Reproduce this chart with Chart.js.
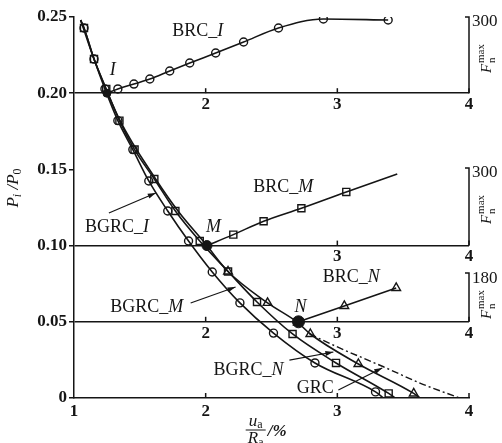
<!DOCTYPE html>
<html>
<head>
<meta charset="utf-8">
<script src="https://cdn.jsdelivr.net/npm/chart.js@4.4.0/dist/chart.umd.min.js"></script>
<style>
html, body { margin: 0; padding: 0; background: #fff; }
</style>
</head>
<body>
<canvas id="chart" width="502" height="443"></canvas>
<script>
// ! values: x = ua/Ra (%), y = Pi/P0
const bgrcIx = [1.05, 1.076, 1.152, 1.235, 1.333, 1.447, 1.568, 1.712, 1.87, 2.05, 2.26, 2.515, 2.83, 3.29, 3.35];
const bgrcIy = [0.248, 0.2428, 0.2224, 0.2028, 0.182, 0.163, 0.1424, 0.1227, 0.103, 0.0827, 0.0624, 0.0426, 0.023, 0.004, 0];

const bgrcMx = [1.05, 1.076, 1.152, 1.245, 1.345, 1.46, 1.61, 1.77, 1.955, 2.17, 2.39, 2.66, 2.99, 3.39, 3.44];
const bgrcMy = [0.248, 0.2428, 0.2224, 0.2028, 0.182, 0.163, 0.1437, 0.1227, 0.103, 0.083, 0.063, 0.042, 0.023, 0.003, 0];

const bgrcNx = [1.05, 1.152, 1.35, 1.62, 1.79, 2.0, 2.17, 2.47, 2.70, 2.795, 3.16, 3.58, 3.63];
const bgrcNy = [0.248, 0.2224, 0.182, 0.1437, 0.1227, 0.101, 0.083, 0.0624, 0.0495, 0.042, 0.0223, 0.003, 0];

const grcX = [2.79, 3.0, 3.35, 3.65, 3.93];
const grcY = [0.042, 0.0335, 0.0205, 0.009, 0];

// BRC curves drawn in the Pi/P0 units of the panel they sit in
const brcIx = [1.25, 1.333, 1.455, 1.576, 1.727, 1.879, 2.076, 2.288, 2.553, 2.894, 3.386];
const brcIy = [0.20, 0.2028, 0.206, 0.2093, 0.2146, 0.2198, 0.2264, 0.2336, 0.2428, 0.2487, 0.248];

const brcMx = [2.01, 2.21, 2.44, 2.727, 3.068, 3.455];
const brcMy = [0.10, 0.1072, 0.1160, 0.1245, 0.1352, 0.147];

const brcNx = [2.705, 3.053, 3.447];
const brcNy = [0.05, 0.0604, 0.0722];

const keyX = [1.25, 2.01, 2.705];
const keyY = [0.20, 0.10, 0.05];

const yTicks = [0, 0.05, 0.10, 0.15, 0.20, 0.25];
const panelLines = [0.20, 0.10, 0.05];
const panelTop = [0.25, 0.151, 0.082];
const panelMax = ['300', '300', '180'];

const pts = (xs, ys) => xs.map((x, i) => ({ x: x, y: ys[i] }));
const serif = '"Liberation Serif", "Times New Roman", serif';
const ink = '#151515';

function lineSet(xs, ys, style, r, markerIf) {
    return {
        data: pts(xs, ys),
        showLine: true,
        borderColor: ink,
        borderWidth: 1.6,
        cubicInterpolationMode: 'monotone',
        pointStyle: style,
        pointRadius: ctx => markerIf(ctx) ? r : 0,
        pointBorderColor: ink,
        pointBorderWidth: 1.4,
        pointBackgroundColor: 'rgba(0,0,0,0)'
    };
}
const inner = ctx => ctx.dataIndex > 0 && ctx.dataIndex < ctx.dataset.data.length - 1;
const notFirst = ctx => ctx.dataIndex > 0;

// text helper: parts = [[text, font, dy]]
function rich(ctx, parts, x, y, align) {
    let w = 0;
    parts.forEach(p => { ctx.font = p[1]; w += ctx.measureText(p[0]).width; });
    let cx = align === 'left' ? x : x - w / 2;
    parts.forEach(p => {
        ctx.font = p[1];
        ctx.fillText(p[0], cx, y + (p[2] || 0));
        cx += ctx.measureText(p[0]).width;
    });
}
const rom = '18px ' + serif;
const ita = 'italic 18px ' + serif;
const tag = (a, b) => [[a, rom], [b, ita]];

const notes = [
    { parts: tag('BRC_', 'I'), x: 1.94, y: 0.2408 },
    { parts: [['I', ita]], x: 1.295, y: 0.2152 },
    { parts: tag('BRC_', 'M'), x: 2.59, y: 0.1385 },
    { parts: [['M', ita]], x: 2.06, y: 0.1122 },
    { parts: tag('BGRC_', 'I'), x: 1.326, y: 0.1122 },
    { parts: tag('BGRC_', 'M'), x: 1.553, y: 0.0597 },
    { parts: [['N', ita]], x: 2.72, y: 0.0597 },
    { parts: tag('BRC_', 'N'), x: 3.106, y: 0.0794 },
    { parts: tag('BGRC_', 'N'), x: 2.326, y: 0.0184 },
    { parts: [['GRC', rom]], x: 2.833, y: 0.0066 }
];
const arrows = [
    [1.265, 0.1214, 1.621, 0.1345],
    [1.886, 0.0623, 2.227, 0.0728],
    [2.636, 0.0249, 2.97, 0.0302],
    [3.008, 0.0052, 3.341, 0.0197]
];

const decor = {
    id: 'decor',
    afterDatasetsDraw(chart) {
        const ctx = chart.ctx;
        const xs = chart.scales.x, ys = chart.scales.y;
        const px = v => xs.getPixelForValue(v), py = v => ys.getPixelForValue(v);
        ctx.save();
        ctx.strokeStyle = ink;
        ctx.fillStyle = ink;
        ctx.lineWidth = 1.5;

        // inner ticks on every baseline
        [0].concat(panelLines).forEach(b => {
            [2, 3, 4].forEach(t => {
                ctx.beginPath();
                ctx.moveTo(px(t), py(b));
                ctx.lineTo(px(t), py(b) - 5);
                ctx.stroke();
            });
        });
        // tick numbers under the panel lines
        ctx.font = 'bold 17px ' + serif;
        ctx.textAlign = 'center';
        ctx.textBaseline = 'top';
        const under = [[0.20, [2, 3, 4]], [0.10, [3, 4]], [0.05, [2, 3, 4]]];
        under.forEach(u => u[1].forEach(t => ctx.fillText(String(t), px(t), py(u[0]) + 3)));

        // right hand Fn max axes
        panelLines.forEach((b, i) => {
            const x = px(4), y0 = py(b), y1 = py(panelTop[i]);
            ctx.beginPath();
            ctx.moveTo(x, y0);
            ctx.lineTo(x, y1);
            ctx.lineTo(x - 4, y1);
            ctx.stroke();
            ctx.textAlign = 'left';
            ctx.textBaseline = 'middle';
            ctx.font = '17px ' + serif;
            ctx.fillText(panelMax[i], x + 3, y1 + 5);
            ctx.save();
            ctx.translate(x + 22, y1 + 40 - (i === 2 ? 10 : 0));
            ctx.rotate(-Math.PI / 2);
            ctx.textAlign = 'left';
            ctx.textBaseline = 'alphabetic';
            ctx.font = 'italic 15px ' + serif;
            ctx.fillText('F', -16, 0);
            ctx.font = '11px ' + serif;
            ctx.fillText('n', -6, 4);
            ctx.fillText('max', -6, -7);
            ctx.restore();
        });

        // annotations
        ctx.textBaseline = 'middle';
        notes.forEach(n => rich(ctx, n.parts, px(n.x), py(n.y), 'center'));
        ctx.lineWidth = 1.2;
        arrows.forEach(a => {
            const x0 = px(a[0]), y0 = py(a[1]), x1 = px(a[2]), y1 = py(a[3]);
            const ang = Math.atan2(y1 - y0, x1 - x0);
            ctx.beginPath();
            ctx.moveTo(x0, y0);
            ctx.lineTo(x1, y1);
            ctx.stroke();
            ctx.beginPath();
            ctx.moveTo(x1, y1);
            ctx.lineTo(x1 - 8 * Math.cos(ang) + 2.5 * Math.sin(ang), y1 - 8 * Math.sin(ang) - 2.5 * Math.cos(ang));
            ctx.lineTo(x1 - 8 * Math.cos(ang) - 2.5 * Math.sin(ang), y1 - 8 * Math.sin(ang) + 2.5 * Math.cos(ang));
            ctx.closePath();
            ctx.fill();
        });

        // axis titles
        const cx = px(2.38), cy = 430;
        ctx.textBaseline = 'alphabetic';
        rich(ctx, [['u', 'italic 17px ' + serif], ['a', '12px ' + serif, 2]], cx, cy - 4, 'center');
        ctx.lineWidth = 1;
        ctx.beginPath();
        ctx.moveTo(cx - 10, cy);
        ctx.lineTo(cx + 10, cy);
        ctx.stroke();
        rich(ctx, [['R', 'italic 17px ' + serif], ['a', '12px ' + serif, 3]], cx, cy + 13, 'center');
        rich(ctx, [['/%', 'bold italic 17px ' + serif]], cx + 12, cy + 6, 'left');

        ctx.save();
        ctx.translate(18, 188);
        ctx.rotate(-Math.PI / 2);
        rich(ctx, [['P', 'italic 17px ' + serif], ['i', 'italic 12px ' + serif, 3], [' /', 'italic 17px ' + serif],
                   ['P', 'italic 17px ' + serif], ['0', '12px ' + serif, 3]], 0, 0, 'center');
        ctx.restore();
        ctx.restore();
    }
};

const near = (a, b) => Math.abs(a - b) < 1e-6;

const chart = new Chart(document.getElementById('chart').getContext('2d'), {
    type: 'scatter',
    data: {
        datasets: [
            lineSet(bgrcIx, bgrcIy, 'circle', 4, inner),
            lineSet(bgrcMx, bgrcMy, 'rect', 5, inner),
            lineSet(bgrcNx, bgrcNy, 'triangle', 5, ctx => inner(ctx) && ctx.raw.x > 2.1),
            Object.assign(lineSet(grcX, grcY, 'circle', 0, () => false), { borderDash: [7, 3, 2, 3], borderWidth: 1.4 }),
            lineSet(brcIx, brcIy, 'circle', 4, notFirst),
            lineSet(brcMx, brcMy, 'rect', 5, ctx => inner(ctx)),
            lineSet(brcNx, brcNy, 'triangle', 5, notFirst),
            {
                data: pts(keyX, keyY),
                showLine: false,
                pointStyle: 'circle',
                pointRadius: [4, 5, 6],
                pointBackgroundColor: ink,
                pointBorderColor: ink
            }
        ]
    },
    options: {
        responsive: false,
        animation: false,
        events: [],
        layout: { padding: { left: 0, right: 33, top: 17, bottom: 0 } },
        plugins: { legend: { display: false }, tooltip: { enabled: false } },
        scales: {
            x: {
                type: 'linear',
                min: 1,
                max: 4,
                afterFit: s => { s.height = 45; },
                ticks: { stepSize: 1, color: ink, padding: 3, font: { family: serif, size: 17, weight: 'bold' } },
                grid: { display: true, drawOnChartArea: false, drawTicks: false },
                border: { display: true, color: ink, width: 1.5 }
            },
            y: {
                type: 'linear',
                min: 0,
                max: 0.25,
                afterFit: s => { s.width = 74; },
                afterBuildTicks: s => { s.ticks = yTicks.map(v => ({ value: v })); },
                ticks: {
                    color: ink,
                    padding: 2,
                    font: { family: serif, size: 17, weight: 'bold' },
                    callback: v => v === 0 ? '0' : v.toFixed(2)
                },
                grid: {
                    color: c => (c.tick && panelLines.some(b => near(b, c.tick.value))) ? ink : 'rgba(0,0,0,0)',
                    lineWidth: 1.5,
                    tickColor: ink,
                    tickLength: 5
                },
                border: { display: true, color: ink, width: 1.5 }
            }
        }
    },
    plugins: [decor]
});
</script>
</body>
</html>
